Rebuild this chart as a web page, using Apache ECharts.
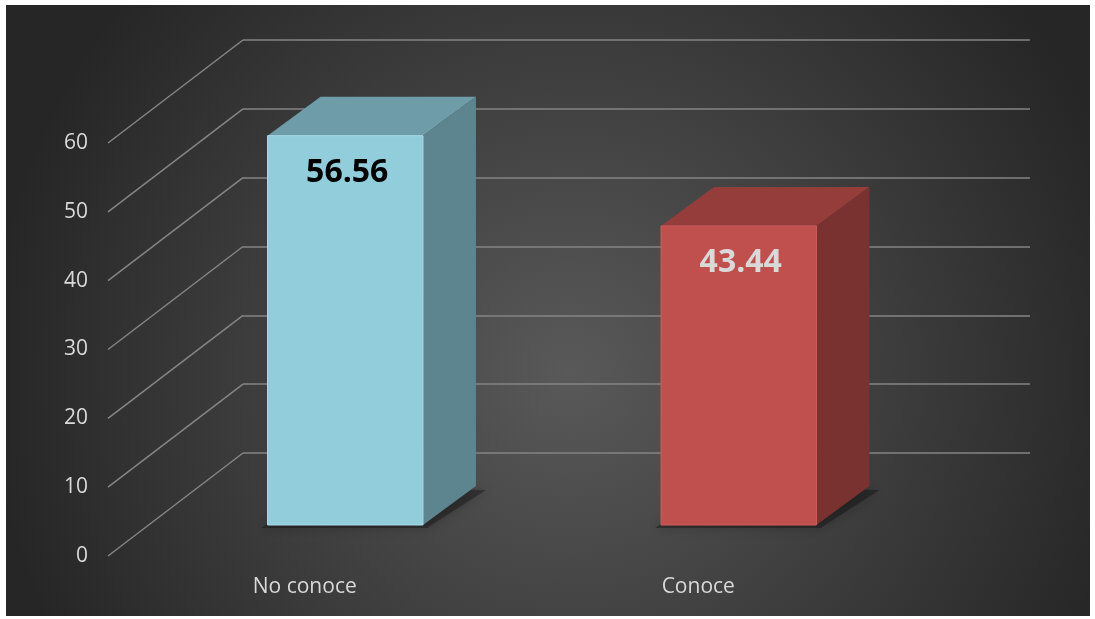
<!DOCTYPE html>
<html><head><meta charset="utf-8">
<script src="https://cdn.jsdelivr.net/npm/echarts@6/dist/echarts.min.js"></script>
<style>html,body{margin:0;padding:0;background:#fff;}#c{width:1095px;height:619px;}</style>
</head><body><div id="c"></div>
<script>
const categories = ['No conoce', 'Conoce'];
const values = [56.56, 43.44];
const yTicks = [0, 10, 20, 30, 40, 50, 60];

const FONT = '"Open Sans", "Noto Sans", sans-serif';
const FRONT = [-94.5, 72];   // bar front face offset from back wall
const BACK = [-41.5, 33];    // bar back face offset from back wall
const PLANE = [-135, 103];   // front (label) plane offset from back wall
const palette = [
  {front: '#92CDDC', top: '#6E9CA8', side: '#5D8590', edge: '#A8DCEA', label: '#000000'},
  {front: '#C0504D', top: '#943D3B', side: '#7A3230', edge: '#CC5E5B', label: '#D9D9D9'}
];

const chart = echarts.init(document.getElementById('c'));

function renderBar(params, api) {
  const i = api.value(0), v = api.value(1);
  const top = api.coord([i, v]);
  const bot = api.coord([i, 0]);
  const w = api.size([1, 0])[0] * 0.395;
  const c = palette[i];
  const fL = top[0] + FRONT[0] - w / 2, fR = fL + w;
  const fT = top[1] + FRONT[1], fB = bot[1] + FRONT[1];
  const dx = BACK[0] - FRONT[0], dy = BACK[1] - FRONT[1];
  return {
    type: 'group',
    children: [
      {type: 'polygon', shape: {points: [[fL - 6, fB + 3], [fR + 4, fB + 3], [fR + dx + 10, fB + dy + 4], [fL + dx, fB + dy]]},
        style: {fill: 'rgba(0,0,0,0.3)', shadowBlur: 12, shadowColor: 'rgba(0,0,0,0.7)'}},
      {type: 'polygon', shape: {points: [[fL, fT], [fR, fT], [fR + dx, fT + dy], [fL + dx, fT + dy]]},
        style: {fill: c.top}},
      {type: 'polygon', shape: {points: [[fR, fT], [fR + dx, fT + dy], [fR + dx, fB + dy], [fR, fB]]},
        style: {fill: c.side}},
      {type: 'rect', shape: {x: fL, y: fT, width: w, height: fB - fT},
        style: {fill: c.front, stroke: c.edge, lineWidth: 1}},
      {type: 'text', style: {text: api.value(1).toFixed(2), x: fL + w / 2 + 2, y: fT + 37,
        align: 'center', verticalAlign: 'middle', fill: c.label,
        font: 'bold 32px ' + FONT}}
    ]
  };
}

function renderDiag(params, api) {
  const p = api.coord([0, api.value(1)]);
  const x0 = params.coordSys.x;
  return {type: 'line', shape: {x1: x0 + PLANE[0], y1: p[1] + PLANE[1], x2: x0, y2: p[1]},
    style: {stroke: '#858585', lineWidth: 1.5}};
}

const option = {
  backgroundColor: '#ffffff',
  animation: false,
  graphic: [{
    type: 'rect', z: -100, silent: true,
    shape: {x: 6, y: 5, width: 1084, height: 611},
    style: {fill: {type: 'radial', x: 0.52, y: 0.6, r: 0.95,
      colorStops: [{offset: 0, color: '#595959'}, {offset: 1, color: '#262626'}]}}
  }],
  grid: [
    {left: 243, right: 65, top: 40, bottom: 166},
    {left: 108, right: 200, top: 143, bottom: 63}
  ],
  xAxis: [
    {type: 'category', gridIndex: 0, data: categories, axisLine: {show: false}, axisTick: {show: false}, axisLabel: {show: false}},
    {type: 'category', gridIndex: 1, data: categories, axisLine: {show: false}, axisTick: {show: false},
      axisLabel: {margin: 21, color: '#D9D9D9', fontSize: 21, fontFamily: FONT}}
  ],
  yAxis: [
    {type: 'value', gridIndex: 0, min: 0, max: 60, interval: 10, axisLabel: {show: false},
      axisLine: {show: false}, axisTick: {show: false},
      splitLine: {show: true, lineStyle: {color: '#858585', width: 1.5}}},
    {type: 'value', gridIndex: 1, min: 0, max: 60, interval: 10,
      axisLine: {show: false}, axisTick: {show: false}, splitLine: {show: false},
      axisLabel: {margin: 20, color: '#D9D9D9', fontSize: 21, fontFamily: FONT}}
  ],
  series: [
    {type: 'custom', xAxisIndex: 0, yAxisIndex: 0, renderItem: renderDiag,
      data: yTicks.map(t => [0, t]), encode: {x: 0, y: 1}, z: 1},
    {type: 'custom', xAxisIndex: 0, yAxisIndex: 0, renderItem: renderBar,
      data: values.map((v, i) => [i, v]), encode: {x: 0, y: 1}, z: 3}
  ]
};
chart.setOption(option);
</script>
</body></html>
